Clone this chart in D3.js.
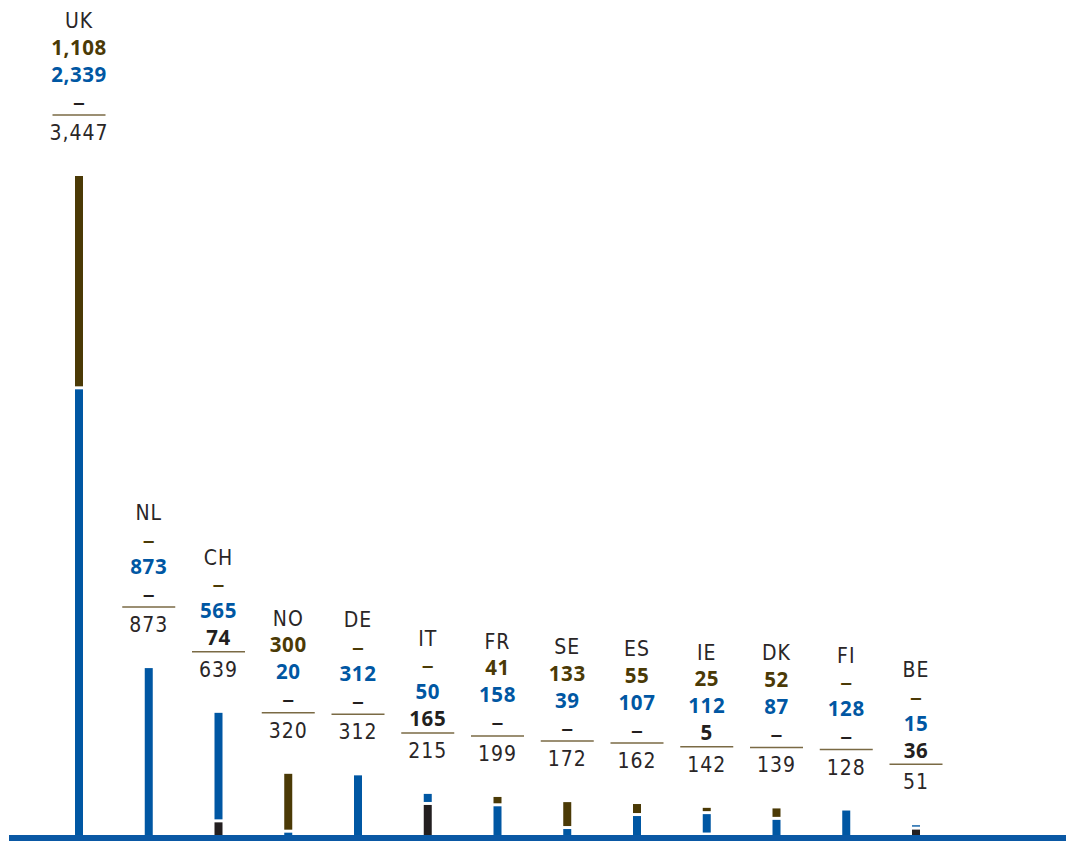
<!DOCTYPE html>
<html>
<head>
<meta charset="utf-8">
<script src="https://cdn.jsdelivr.net/npm/d3@7"></script>
<style>
  html, body { margin: 0; padding: 0; background: #ffffff; }
  svg { display: block; }
</style>
</head>
<body>
<svg id="chart" width="1067" height="841"></svg>
<script>
// Countries and the three stacked components (bottom to top: dark, blue, brown)
const countries = ["UK", "NL", "CH", "NO", "DE", "IT", "FR", "SE", "ES", "IE", "DK", "FI", "BE"];
const brownValues = [1108, 0, 0, 300, 0, 0, 41, 133, 55, 25, 52, 0, 0];
const blueValues  = [2339, 873, 565, 20, 312, 50, 158, 39, 107, 112, 87, 128, 15];
const darkValues  = [0, 0, 74, 0, 0, 165, 0, 0, 0, 5, 0, 0, 36];
const totals      = [3447, 873, 639, 320, 312, 215, 199, 172, 162, 142, 139, 128, 51];

const COLORS = { brown: "#4b3a06", blue: "#0057a3", dark: "#231f20", rule: "#7a6a44" };

const svg = d3.select("#chart");
const W = 1067, H = 841;
const baseY = 835;

const x = d3.scalePoint().domain(countries).range([79, 916]);
const y = d3.scaleLinear().domain([0, d3.max(totals)]).range([baseY, 176]);

const fmt = d3.format(",");
const barW = 8;
const gap = 1.5;

const rows = countries.map((c, i) => ({
  country: c,
  dark: darkValues[i],
  blue: blueValues[i],
  brown: brownValues[i],
  total: totals[i]
}));

const keys = ["dark", "blue", "brown"];
const stacked = d3.stack().keys(keys)(rows);

// Bars
const g = svg.append("g");
stacked.forEach(layer => {
  g.selectAll(null)
    .data(layer.filter(d => d[1] - d[0] > 0))
    .join("rect")
    .attr("x", d => x(d.data.country) - barW / 2)
    .attr("width", barW)
    .attr("y", d => {
      const above = d[1] < d.data.total;
      return y(d[1]) + (above ? gap : 0);
    })
    .attr("height", d => {
      const above = d[1] < d.data.total;
      const below = d[0] > 0;
      const top = y(d[1]) + (above ? gap : 0);
      const bottom = y(d[0]) - (below ? gap : 0);
      return Math.max(0.8, bottom - top);
    })
    .attr("fill", COLORS[layer.key]);
});

// Baseline
svg.append("rect")
  .attr("x", 9).attr("y", baseY)
  .attr("width", W - 10).attr("height", 6)
  .attr("fill", "#0a58a4");

// Label blocks above each bar
const lightFont = "'Liberation Sans Narrow', 'DejaVu Sans Condensed', 'Liberation Sans', sans-serif";
const boldFont = "'Open Sans', 'Noto Sans', sans-serif";
const dashFont = "'Liberation Sans', sans-serif";

const labels = svg.append("g").attr("text-anchor", "middle");
rows.forEach(r => {
  const cx = x(r.country);
  const L = y(r.total) - 61;
  const lg = labels.append("g");

  lg.append("text")
    .attr("x", cx).attr("y", L - 95 + 8)
    .attr("font-family", lightFont).attr("font-size", 21)
    .attr("letter-spacing", 1)
    .attr("fill", "#2a2627")
    .text(r.country);

  const vals = [
    { v: r.brown, c: COLORS.brown, dy: -68 },
    { v: r.blue, c: COLORS.blue, dy: -41 },
    { v: r.dark, c: COLORS.dark, dy: -14 }
  ];
  vals.forEach(o => {
    const isZero = o.v === 0;
    lg.append("text")
      .attr("x", cx).attr("y", L + o.dy + 7.5)
      .attr("font-family", isZero ? dashFont : boldFont).attr("font-weight", 700)
      .attr("font-size", 20.5).attr("letter-spacing", isZero ? 0 : 0.6)
      .attr("fill", o.c)
      .text(isZero ? "–" : fmt(o.v));
  });

  lg.append("line")
    .attr("x1", cx - 26.5).attr("x2", cx + 26.5)
    .attr("y1", L).attr("y2", L)
    .attr("stroke", COLORS.rule).attr("stroke-width", 1.5);

  lg.append("text")
    .attr("x", cx).attr("y", L + 17 + 8)
    .attr("font-family", lightFont).attr("font-size", 21)
    .attr("letter-spacing", 1)
    .attr("fill", "#2a2627")
    .text(fmt(r.total));
});
</script>
</body>
</html>
